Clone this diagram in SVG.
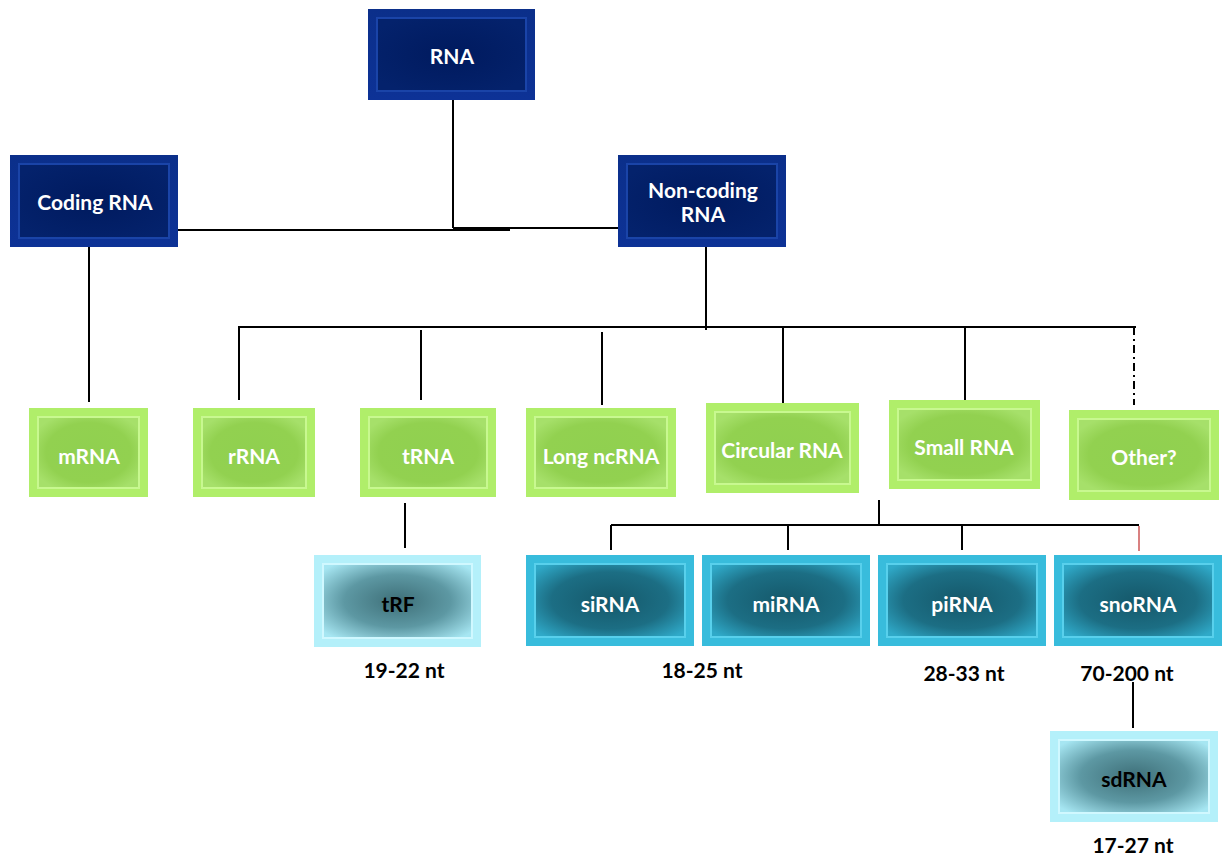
<svg xmlns="http://www.w3.org/2000/svg" width="1232" height="860" viewBox="0 0 1232 860">
<defs>
<radialGradient id="gBlue" cx="50%" cy="50%" r="60%"><stop offset="0" stop-color="#001a5e"/><stop offset="1" stop-color="#04226c"/></radialGradient>
<linearGradient id="fBlue" x1="0" y1="0" x2="0" y2="1"><stop offset="0" stop-color="#0b2f8a"/><stop offset="1" stop-color="#0d3296"/></linearGradient>
<radialGradient id="gGreen" cx="50%" cy="50%" r="60%"><stop offset="0" stop-color="#90d050"/><stop offset="0.7" stop-color="#92d150"/><stop offset="1" stop-color="#a6e06a"/></radialGradient>
<radialGradient id="gTeal" cx="50%" cy="50%" r="65%"><stop offset="0" stop-color="#15586a"/><stop offset="0.6" stop-color="#1c6e84"/><stop offset="1" stop-color="#2fa9c8"/></radialGradient>
<radialGradient id="gLight" cx="50%" cy="50%" r="65%"><stop offset="0" stop-color="#3e6f78"/><stop offset="0.55" stop-color="#5d98a3"/><stop offset="1" stop-color="#a6e6f2"/></radialGradient>
</defs>
<style>
.t{font-family:Lato,"Open Sans","Liberation Sans",sans-serif;font-weight:bold;font-size:21px;text-anchor:middle;dominant-baseline:central}
.w{fill:#ffffff}
.k{fill:#000000}
.blueO{fill:url(#fBlue)}
.blueI{fill:url(#gBlue);stroke:#1a44a8;stroke-width:2}
.greenO{fill:#b0ee6a}
.greenI{fill:url(#gGreen);stroke:#c8f890;stroke-width:2}
.tealO{fill:#38bcdc}
.tealI{fill:url(#gTeal);stroke:#58d0ec;stroke-width:2}
.lightO{fill:#b4f0fa}
.lightI{fill:url(#gLight);stroke:#d0f8ff;stroke-width:2}
.ln{stroke:#000;stroke-width:2;fill:none}
.lab{font-family:Lato,"Open Sans","Liberation Sans",sans-serif;font-weight:bold;font-size:21px;text-anchor:middle;fill:#000}
</style>
<g id="connectors">
<line class="ln" x1="453" y1="100" x2="453" y2="228"/>
<line class="ln" x1="178" y1="230" x2="510" y2="230"/>
<line class="ln" x1="453" y1="228" x2="618" y2="228"/>
<line class="ln" x1="89" y1="247" x2="89" y2="402"/>
<line class="ln" x1="706" y1="247" x2="706" y2="330"/>
<line class="ln" x1="238" y1="327" x2="1136" y2="327"/>
<line class="ln" x1="239" y1="327" x2="239" y2="400"/>
<line class="ln" x1="421" y1="330" x2="421" y2="400"/>
<line class="ln" x1="602" y1="332" x2="602" y2="405"/>
<line class="ln" x1="783" y1="327" x2="783" y2="410"/>
<line class="ln" x1="965" y1="327" x2="965" y2="400"/>
<line class="ln" x1="1134" y1="327" x2="1134" y2="405" stroke-dasharray="8,4,2,4"/>
<line class="ln" x1="405" y1="503" x2="405" y2="548"/>
<line class="ln" x1="879" y1="500" x2="879" y2="525"/>
<line class="ln" x1="611" y1="525" x2="1139" y2="525"/>
<line class="ln" x1="611" y1="525" x2="611" y2="550"/>
<line class="ln" x1="788" y1="525" x2="788" y2="550"/>
<line class="ln" x1="962" y1="525" x2="962" y2="550"/>
<line x1="1139" y1="526" x2="1139" y2="551" stroke="#d98080" stroke-width="2"/>
<line class="ln" x1="1133" y1="682" x2="1133" y2="728"/>
</g>
<g id="rna"><rect class="blueO" x="368" y="9" width="167" height="91"/><rect class="blueI" x="377" y="18" width="149" height="73"/><text class="t w" x="452" y="55">RNA</text></g>
<g id="coding"><rect class="blueO" x="10" y="155" width="168" height="92"/><rect class="blueI" x="19" y="164" width="150" height="74"/><text class="t w" x="95" y="201">Coding RNA</text></g>
<g id="noncoding"><rect class="blueO" x="618" y="155" width="168" height="92"/><rect class="blueI" x="627" y="164" width="150" height="74"/><text class="t w" x="703" y="189">Non-coding</text><text class="t w" x="703" y="213">RNA</text></g>
<g id="mrna"><rect class="greenO" x="29" y="408" width="119" height="89"/><rect class="greenI" x="38" y="417" width="101" height="71"/><text class="t w" x="89" y="455">mRNA</text></g>
<g id="rrna"><rect class="greenO" x="193" y="408" width="122" height="89"/><rect class="greenI" x="202" y="417" width="104" height="71"/><text class="t w" x="254" y="455">rRNA</text></g>
<g id="trna"><rect class="greenO" x="360" y="408" width="136" height="89"/><rect class="greenI" x="369" y="417" width="118" height="71"/><text class="t w" x="428" y="455">tRNA</text></g>
<g id="lncrna"><rect class="greenO" x="526" y="408" width="150" height="89"/><rect class="greenI" x="535" y="417" width="132" height="71"/><text class="t w" x="601" y="455">Long ncRNA</text></g>
<g id="circrna"><rect class="greenO" x="706" y="403" width="153" height="90"/><rect class="greenI" x="715" y="412" width="135" height="72"/><text class="t w" x="782" y="449">Circular RNA</text></g>
<g id="smallrna"><rect class="greenO" x="889" y="400" width="151" height="89"/><rect class="greenI" x="898" y="409" width="133" height="71"/><text class="t w" x="964" y="446">Small RNA</text></g>
<g id="other"><rect class="greenO" x="1069" y="410" width="150" height="90"/><rect class="greenI" x="1078" y="419" width="132" height="72"/><text class="t w" x="1144" y="456">Other?</text></g>
<g id="trf"><rect class="lightO" x="314" y="555" width="167" height="92"/><rect class="lightI" x="323" y="564" width="149" height="74"/><text class="t k" x="398" y="603">tRF</text></g>
<g id="sirna"><rect class="tealO" x="526" y="555" width="168" height="91"/><rect class="tealI" x="535" y="564" width="150" height="73"/><text class="t w" x="610" y="603">siRNA</text></g>
<g id="mirna"><rect class="tealO" x="702" y="555" width="168" height="91"/><rect class="tealI" x="711" y="564" width="150" height="73"/><text class="t w" x="786" y="603">miRNA</text></g>
<g id="pirna"><rect class="tealO" x="878" y="555" width="168" height="91"/><rect class="tealI" x="887" y="564" width="150" height="73"/><text class="t w" x="962" y="603">piRNA</text></g>
<g id="snorna"><rect class="tealO" x="1054" y="555" width="168" height="91"/><rect class="tealI" x="1063" y="564" width="150" height="73"/><text class="t w" x="1138" y="603">snoRNA</text></g>
<g id="sdrna"><rect class="lightO" x="1050" y="731" width="168" height="91"/><rect class="lightI" x="1059" y="740" width="150" height="73"/><text class="t k" x="1134" y="778">sdRNA</text></g>
<g id="labels">
<text class="lab" x="404" y="678">19-22 nt</text>
<text class="lab" x="702" y="678">18-25 nt</text>
<text class="lab" x="964" y="681">28-33 nt</text>
<text class="lab" x="1127" y="681">70-200 nt</text>
<text class="lab" x="1133" y="853">17-27 nt</text>
</g>
</svg>
